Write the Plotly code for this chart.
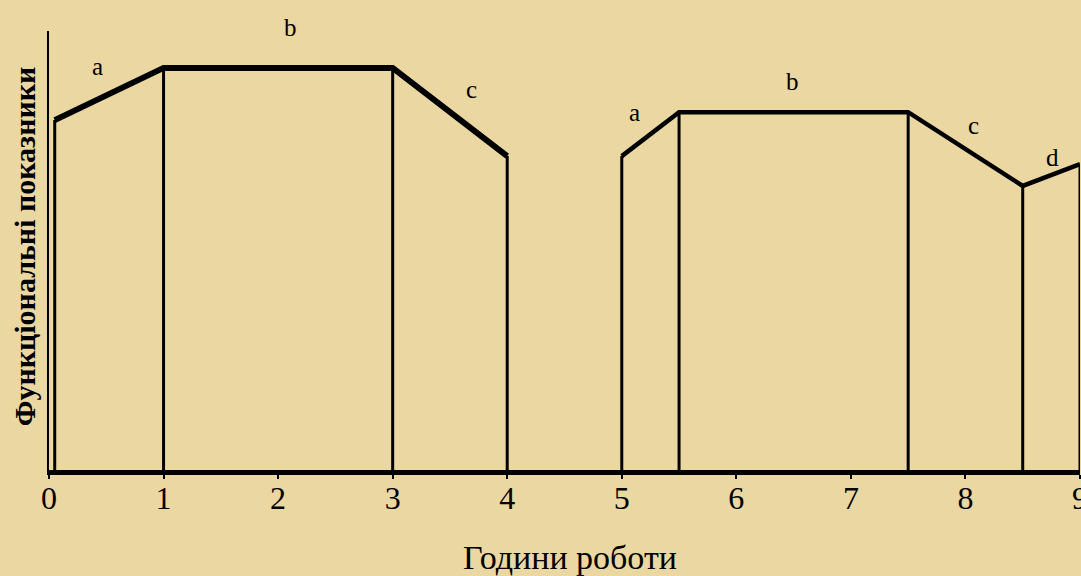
import plotly.graph_objects as go

# working curve: hours of work vs functional indicators (arbitrary units 0-100)
hours_1 = [0.05, 1, 3, 4]
level_1 = [79.7, 91.6, 91.6, 71.5]
hours_2 = [5, 5.5, 7.5, 8.5, 9]
level_2 = [71.5, 81.5, 81.5, 64.7, 69.7]

# phase labels
phase_names = ["a", "b", "c", "a", "b", "c", "d"]
phase_x = [0.42, 2.11, 3.69, 5.11, 6.49, 8.07, 8.76]
phase_y = [91.8, 100.9, 86.6, 81.5, 88.4, 78.4, 71.1]

tick_vals = list(range(10))

y_max = 100
bg = "#ead7a2"
font_name = "Liberation Serif"


def drops(xs, ys):
    vx, vy = [], []
    for x, y in zip(xs, ys):
        vx += [x, x, None]
        vy += [0, y, None]
    return vx, vy


fig = go.Figure()
for xs, ys, w in [(hours_1, level_1, 6), (hours_2, level_2, 4.5)]:
    vx, vy = drops(xs, ys)
    fig.add_trace(go.Scatter(x=vx, y=vy, mode="lines",
                             line=dict(color="black", width=3),
                             hoverinfo="skip", cliponaxis=False))
    fig.add_trace(go.Scatter(x=xs, y=ys, mode="lines",
                             line=dict(color="black", width=w),
                             cliponaxis=False))

# labels can sit above the axis range, so place them in paper units
for name, x, y in zip(phase_names, phase_x, phase_y):
    fig.add_annotation(x=x, y=y / y_max, yref="paper", text=name,
                       xanchor="center", yanchor="middle", showarrow=False,
                       font=dict(family=font_name, size=25, color="black"))

fig.add_annotation(xref="paper", yref="paper", x=0.505, y=-0.2,
                   yanchor="middle", text="Години роботи", showarrow=False,
                   font=dict(family=font_name, size=34, color="black"))
fig.add_annotation(xref="paper", yref="paper", x=-0.024, y=0.51,
                   xanchor="center", yanchor="middle", textangle=-90,
                   text="<b>Функціональні показники</b>", showarrow=False,
                   font=dict(family=font_name, size=30, color="black"))

fig.update_layout(
    width=1081, height=576,
    margin=dict(l=49, r=1, t=31, b=106),
    paper_bgcolor=bg, plot_bgcolor=bg,
    showlegend=False,
    font=dict(family=font_name, color="black"),
)
fig.update_xaxes(range=[0, 9], tickvals=tick_vals, showgrid=False,
                 zeroline=False, showline=True, linecolor="black",
                 linewidth=5, ticks="outside", ticklen=4, tickwidth=2,
                 tickcolor="black", tickfont=dict(size=32),
                 ticklabelstandoff=-8, ticklabeloverflow="allow",
                 automargin=False)
fig.update_yaxes(range=[0, y_max], showgrid=False, zeroline=False,
                 showline=True, linecolor="black", linewidth=2,
                 showticklabels=False, ticks="", automargin=False)

fig.write_html("out.html", config={"displayModeBar": False},
               post_script="document.body.style.margin='0';"
                           "document.body.style.background='" + bg + "';")
